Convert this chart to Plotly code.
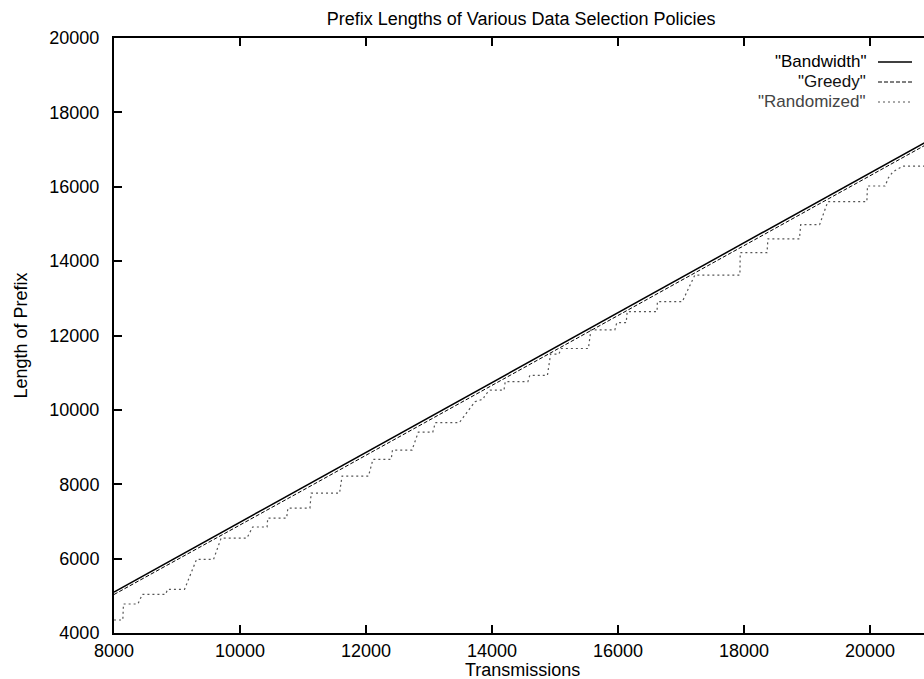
import plotly.graph_objects as go

# Transmissions (x) sample points and prefix lengths for each policy
bw_x = [8000, 9000, 10000, 11000, 12000, 13000, 14000, 15000, 16000,
        17000, 18000, 19000, 20000, 21000]
bw_y = [5100, 6040, 6980, 7920, 8860, 9800, 10740, 11670, 12610,
        13550, 14490, 15430, 16370, 17310]

greedy_x = [8000, 9000, 10000, 11000, 12000, 13000, 14000, 15000, 16000,
            17000, 18000, 19000, 20000, 21000]
greedy_y = [5035, 5965, 6905, 7840, 8780, 9720, 10660, 11595, 12535,
            13475, 14415, 15355, 16295, 17235]

rand_x = [8000, 8140, 8150, 8380, 8450, 8820, 8850, 9120, 9310, 9580,
          9700, 10110, 10200, 10430, 10440, 10740, 10760, 11110, 11130, 11580,
          11620, 12040, 12110, 12400, 12420, 12730, 12830, 13060, 13100, 13480,
          13730, 13860, 13890, 13970, 14190, 14210, 14570, 14600, 14880, 14930,
          15060, 15100, 15530, 15570, 15950, 15980, 16130, 16145, 16620, 16625,
          17020, 17150, 17220, 17935, 17940, 18365, 18380, 18880, 18900, 19200,
          19330, 19950, 19960, 20240, 20290, 20365, 20520, 21000]
rand_y = [4350, 4350, 4780, 4780, 5040, 5040, 5175, 5175, 5980, 5980,
          6550, 6550, 6850, 6850, 7090, 7090, 7360, 7360, 7760, 7760,
          8220, 8220, 8670, 8670, 8920, 8920, 9400, 9400, 9655, 9655,
          10220, 10290, 10400, 10530, 10530, 10760, 10760, 10930, 10930, 11500,
          11500, 11650, 11650, 12150, 12150, 12344, 12344, 12640, 12640, 12910,
          12910, 13400, 13626, 13626, 14226, 14226, 14600, 14600, 14980, 14980,
          15600, 15600, 16020, 16020, 16235, 16404, 16557, 16557]

x_ticks = [8000, 10000, 12000, 14000, 16000, 18000, 20000]
y_ticks = [4000, 6000, 8000, 10000, 12000, 14000, 16000, 18000, 20000]

series_names = ['"Bandwidth"', '"Greedy"', '"Randomized"']
series_colors = ["#000000", "#000000", "#555555"]
series_dash = ["solid", "4px,2px", "2px,3px"]
series_width = [1.5, 1.0, 1.2]
label_colors = ["#000000", "#111111", "#444444"]

FONT = "Liberation Sans, Arial, Helvetica, sans-serif"

fig = go.Figure()
for xs, ys, name, col, dash, w in zip(
        [bw_x, greedy_x, rand_x], [bw_y, greedy_y, rand_y],
        series_names, series_colors, series_dash, series_width):
    fig.add_trace(go.Scatter(x=xs, y=ys, mode="lines", name=name,
                             line=dict(color=col, dash=dash, width=w),
                             showlegend=False, hoverinfo="skip"))

X_MAX = 20857  # visible right edge of the 8000-21000 frame

fig.update_layout(
    width=924, height=679,
    margin=dict(l=114, r=0, t=38, b=46),
    paper_bgcolor="white", plot_bgcolor="white",
    font=dict(family=FONT, size=18, color="#000"),
    title=dict(text="Prefix Lengths of Various Data Selection Policies",
               x=0.564, xref="container", xanchor="center",
               y=1 - 19 / 679, yref="container", yanchor="middle",
               font=dict(size=18)),
    xaxis=dict(range=[8000, X_MAX], tickvals=x_ticks,
               ticktext=[str(v) for v in x_ticks],
               ticks="inside", ticklen=8, tickwidth=1.5, tickcolor="#000",
               showline=True, linewidth=2, linecolor="#000", mirror="ticks",
               showgrid=False, zeroline=False, ticklabelstandoff=0),
    yaxis=dict(range=[4000, 20000], tickvals=y_ticks,
               ticktext=[str(v) for v in y_ticks],
               ticks="inside", ticklen=8, tickwidth=1.5, tickcolor="#000",
               showline=True, linewidth=2, linecolor="#000", mirror=False,
               showgrid=False, zeroline=False, ticklabelstandoff=9),
    yaxis2=dict(range=[4000, 20000], tickvals=y_ticks, overlaying="y",
                side="right", ticks="inside", ticklen=2, tickwidth=1.5,
                tickcolor="#000", showticklabels=False, showline=False,
                showgrid=False, zeroline=False),
    showlegend=False,
)

# Axis titles
fig.add_annotation(text="Transmissions", xref="paper", yref="paper",
                   x=(522 - 114) / 810, y=(633 - 670) / 595,
                   xanchor="center", yanchor="middle", showarrow=False,
                   font=dict(size=18))
fig.add_annotation(text="Length of Prefix", xref="paper", yref="paper",
                   x=(20 - 114) / 810, y=0.5, textangle=-90,
                   xanchor="center", yanchor="middle", showarrow=False,
                   font=dict(size=18))

# Key: label on the left, line sample on the right
key_rows = [62, 82, 102]
for name, col, dash, w, lc, row in zip(series_names, series_colors,
                                       series_dash, series_width,
                                       label_colors, key_rows):
    yp = (633 - row) / 595
    fig.add_annotation(text=name, xref="paper", yref="paper",
                       x=(867 - 114) / 810, y=yp, xanchor="right",
                       yanchor="middle", showarrow=False, borderpad=0,
                       font=dict(size=17, color=lc))
    fig.add_shape(type="line", xref="paper", yref="paper",
                  x0=(878 - 114) / 810, x1=(912 - 114) / 810, y0=yp, y1=yp,
                  line=dict(color=col, dash=dash, width=w))

fig.write_html("out.html")
